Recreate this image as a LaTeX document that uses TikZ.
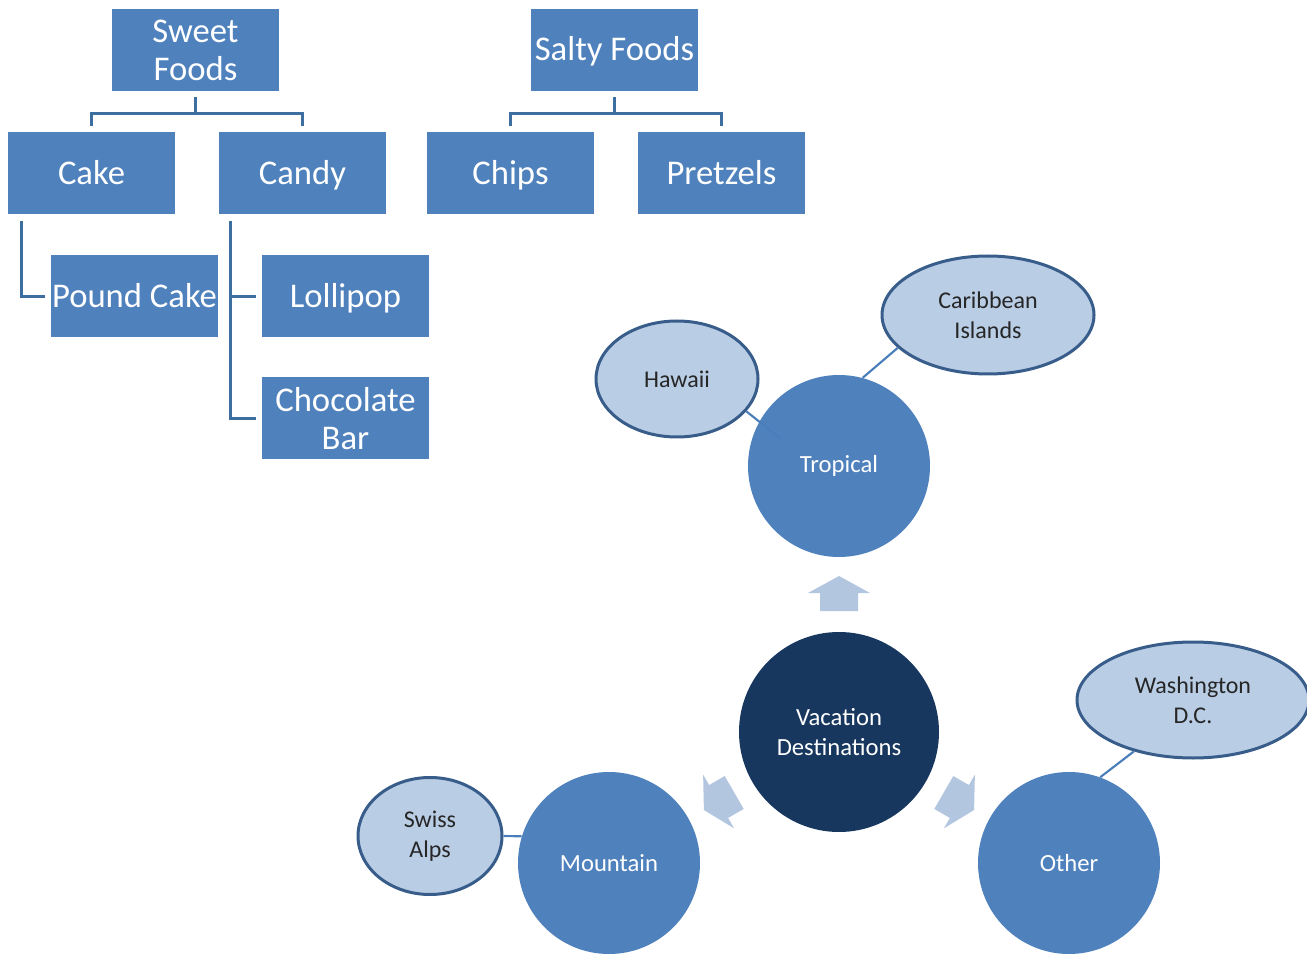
\documentclass[tikz,border=0pt]{standalone}
\usepackage{fontspec}
\setmainfont{Carlito}
\usetikzlibrary{shapes.geometric}
\definecolor{boxblue}{HTML}{4F81BD}
\definecolor{treeline}{HTML}{3C6E9F}
\definecolor{ellfill}{HTML}{B9CDE5}
\definecolor{elldraw}{HTML}{385D8A}
\definecolor{navy}{HTML}{17375E}
\definecolor{arrowfill}{HTML}{B3C6E0}
\definecolor{mapline}{HTML}{4A7EBB}
\tikzset{
  catbox/.style={rectangle, fill=boxblue, text=white, minimum width=125.25pt, minimum height=61.5pt,
    inner sep=0pt, align=center, font=\fontsize{26}{28.5}\selectfont},
  onebox/.style={catbox, text height=19.75pt, text depth=3.25pt},
  tline/.style={draw=treeline, line width=2.25pt, shorten <=4.5pt, shorten >=4.5pt},
  bigcirc/.style={circle, fill=boxblue, text=white, minimum size=136.5pt, inner sep=0pt, align=center,
    font=\fontsize{18.5}{22}\selectfont},
  ell/.style={ellipse, fill=ellfill, draw=elldraw, line width=2.25pt, inner sep=0pt, align=center,
    text=black!85, font=\fontsize{18}{22.5}\selectfont},
  mline/.style={draw=mapline, line width=1.6pt},
  bigarrow/.style={fill=arrowfill, draw=none}
}
\begin{document}
\begin{tikzpicture}[x=0.75pt, y=-0.75pt]
\useasboundingbox (0,0) rectangle (1307,955);
% ---- food trees
\node[catbox] (sweet) at (195.5,50) {Sweet\\Foods};
\node[onebox] (salty) at (614.5,50) {Salty Foods};
\node[onebox] (cake) at (91.5,173.5) {Cake};
\node[onebox] (candy) at (302.5,173.5) {Candy};
\node[onebox] (chips) at (510.5,173.5) {Chips};
\node[onebox] (pretz) at (721.5,173.5) {Pretzels};
\node[onebox] (pound) at (134.5,296.5) {Pound Cake};
\node[onebox] (lolli) at (345.5,296.5) {Lollipop};
\node[catbox] (choc) at (345.5,418.5) {Chocolate\\Bar};

\draw[tline] (sweet.south) -- ++(0,22) -| (cake.north);
\draw[tline] (sweet.south) -- ++(0,22) -| (candy.north);
\draw[tline] (salty.south) -- ++(0,22) -| (chips.north);
\draw[tline] (salty.south) -- ++(0,22) -| (pretz.north);
\coordinate (cakev) at ([xshift=10.5pt]cake.south west);
\coordinate (candyv) at ([xshift=9pt]candy.south west);
\draw[tline] (cakev) |- (pound.west);
\draw[tline] (candyv) |- (choc.west);
\draw[tline, shorten <=0pt] (candyv |- lolli.west) -- (lolli.west);

% ---- mind map
\node[ell, minimum width=121.5pt, minimum height=87pt] (hawaii) at (677,379) {Hawaii};
\node[ell, minimum width=159pt, minimum height=88.5pt] (carib) at (988,315) {Caribbean\\Islands};
\node[ell, minimum width=174pt, minimum height=87pt] (wash) at (1193,700) {Washington\\D.C.};
\node[ell, minimum width=108pt, minimum height=87.75pt] (swiss) at (430,836) {Swiss\\Alps};

\node[bigcirc] (trop) at (839,466) {Tropical};
\node[bigcirc] (mount) at (609,863) {Mountain};
\node[bigcirc] (other) at (1069,863) {Other};
\node[bigcirc, fill=navy, minimum size=150pt] (vac) at (839,732) {Vacation\\Destinations};

\coordinate (hwend) at (781,439);
\draw[mline] (hawaii.-25) -- (hwend);
\draw[mline] (carib.200) -- (trop.75);
\draw[mline] (wash.221) -- (other.70);
\draw[mline] (swiss.east) -- (mount.163);

% ---- arrows from the centre
\foreach \ang in {0,120,-120}{
  \begin{scope}[shift={(839,732)}, rotate=\ang]
    \fill[bigarrow] (0,-156) -- (31,-139) -- (19,-139) -- (19,-121) -- (-19,-121) -- (-19,-139) -- (-31,-139) -- cycle;
  \end{scope}
}
\end{tikzpicture}
\end{document}
